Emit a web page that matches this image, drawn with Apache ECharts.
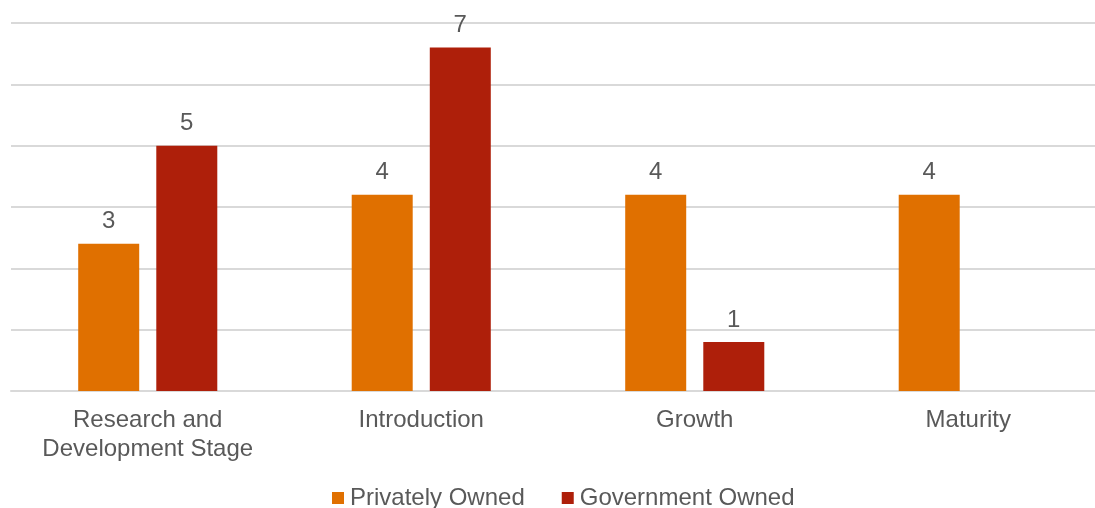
<!DOCTYPE html>
<html>
<head>
<meta charset="utf-8">
<script src="https://cdn.jsdelivr.net/npm/echarts@6/dist/echarts.min.js"></script>
<style>
  html, body { margin: 0; padding: 0; background: #ffffff; overflow: hidden; }
  #chart { width: 1105px; height: 508px; }
</style>
</head>
<body>
<div id="chart"></div>
<script>
// Product life-cycle stages and ownership counts
const stages = ['Research and\nDevelopment Stage', 'Introduction', 'Growth', 'Maturity'];
const privatelyOwned = [3, 4, 4, 4];
const governmentOwned = [5, 7, 1, null];
const seriesNames = ['Privately Owned', 'Government Owned'];

const textColor = '#595959';
const font = '"Liberation Sans", Arial, sans-serif';

const chart = echarts.init(document.getElementById('chart'), null, { renderer: 'canvas' });

const labelStyle = {
  show: true,
  position: 'top',
  distance: 10,
  color: textColor,
  fontSize: 24,
  fontFamily: font
};

chart.setOption({
  animation: false,
  backgroundColor: '#ffffff',
  grid: { left: 11, right: 0, top: 23, bottom: 117, containLabel: false },
  legend: {
    bottom: -7,
    left: 327,
    itemWidth: 12,
    itemHeight: 12,
    itemGap: 37,
    icon: 'rect',
    textStyle: { color: textColor, fontSize: 24, fontFamily: font, padding: [0, 0, 0, 1] },
    data: seriesNames
  },
  xAxis: {
    type: 'category',
    data: stages,
    axisLine: { show: true, lineStyle: { color: '#d9d9d9', width: 2 } },
    axisTick: { show: false },
    axisLabel: {
      color: textColor,
      fontSize: 24,
      fontFamily: font,
      lineHeight: 29,
      margin: 15,
      interval: 0
    }
  },
  yAxis: {
    type: 'value',
    min: 0,
    max: 7.5,
    interval: 1.25,
    axisLabel: { show: false },
    axisLine: { show: false },
    axisTick: { show: false },
    splitLine: { lineStyle: { color: '#d9d9d9', width: 2 } }
  },
  series: [
    {
      name: seriesNames[0],
      type: 'bar',
      data: privatelyOwned,
      barWidth: 61,
      barGap: '28%',
      itemStyle: { color: '#E07000' },
      label: labelStyle
    },
    {
      name: seriesNames[1],
      type: 'bar',
      data: governmentOwned,
      barWidth: 61,
      barGap: '28%',
      itemStyle: { color: '#AE1F0A' },
      label: labelStyle
    }
  ]
});
</script>
</body>
</html>
